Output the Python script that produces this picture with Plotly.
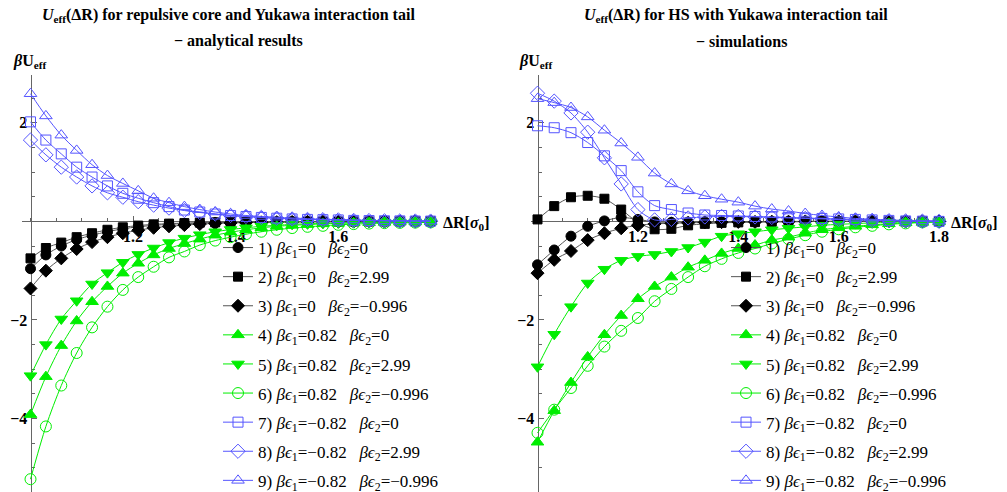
import plotly.graph_objects as go

W, H = 1007, 492

# ---------------- data ----------------
x_left = [round(1.0 + 0.03 * k, 2) for k in range(27)]
x_right = [round(1.0 + k / 30.0, 4) for k in range(25)]

eps1 = ["0", "0", "0", "0.82", "0.82", "0.82", "\u22120.82", "\u22120.82", "\u22120.82"]
eps2 = ["0", "2.99", "\u22120.996", "0", "2.99", "\u22120.996", "0", "2.99", "\u22120.996"]

# analytical results (left panel)
L1 = [-0.96, -0.68, -0.50, -0.37, -0.28, -0.21, -0.15, -0.11, -0.08, -0.06, -0.045, -0.035, -0.027,
      -0.02, -0.016, -0.012, -0.01, -0.008, -0.006, -0.005, -0.004, -0.003, -0.002, -0.002, -0.001, -0.001, 0.0]
L2 = [-0.75, -0.54, -0.43, -0.32, -0.24, -0.17, -0.12, -0.085, -0.06, -0.045, -0.035, -0.025, -0.02,
      -0.015, -0.012, -0.01, -0.008, -0.006, -0.005, -0.004, -0.003, -0.002, -0.002, -0.001, -0.001, 0.0, 0.0]
L3 = [-1.36, -1.00, -0.75, -0.56, -0.42, -0.32, -0.24, -0.18, -0.13, -0.10, -0.075, -0.055, -0.042,
      -0.032, -0.025, -0.019, -0.015, -0.011, -0.009, -0.007, -0.005, -0.004, -0.003, -0.002, -0.002, -0.001, -0.001]
L4 = [-3.92, -3.15, -2.52, -2.02, -1.63, -1.32, -1.05, -0.85, -0.68, -0.55, -0.45, -0.36, -0.28,
      -0.22, -0.17, -0.13, -0.10, -0.08, -0.065, -0.05, -0.04, -0.03, -0.025, -0.02, -0.015, -0.012, -0.01]
L5 = [-3.13, -2.50, -1.98, -1.61, -1.27, -1.04, -0.83, -0.67, -0.54, -0.43, -0.34, -0.27, -0.21,
      -0.165, -0.13, -0.10, -0.08, -0.06, -0.05, -0.04, -0.03, -0.025, -0.02, -0.015, -0.012, -0.01, -0.008]
L6 = [-5.23, -4.16, -3.33, -2.67, -2.15, -1.73, -1.39, -1.13, -0.92, -0.73, -0.61, -0.48, -0.39,
      -0.32, -0.26, -0.21, -0.17, -0.135, -0.11, -0.09, -0.07, -0.055, -0.045, -0.035, -0.03, -0.025, -0.02]
L7 = [2.02, 1.65, 1.37, 1.10, 0.90, 0.72, 0.57, 0.47, 0.38, 0.30, 0.23, 0.19, 0.15,
      0.12, 0.10, 0.08, 0.065, 0.05, 0.04, 0.035, 0.03, 0.02, 0.017, 0.013, 0.01, 0.008, 0.006]
L8 = [1.65, 1.35, 1.10, 0.90, 0.72, 0.58, 0.49, 0.40, 0.33, 0.27, 0.22, 0.18, 0.15,
      0.12, 0.10, 0.08, 0.065, 0.05, 0.04, 0.035, 0.03, 0.02, 0.017, 0.013, 0.01, 0.008, 0.006]
L9 = [2.59, 2.14, 1.75, 1.44, 1.15, 0.93, 0.77, 0.62, 0.47, 0.38, 0.30, 0.24, 0.19,
      0.15, 0.12, 0.10, 0.085, 0.07, 0.055, 0.045, 0.035, 0.03, 0.02, 0.015, 0.012, 0.01, 0.008]

# simulations (right panel)
R1 = [-0.88, -0.58, -0.30, -0.10, 0.01, 0.08, 0.04, -0.01, -0.02, -0.015, -0.01, -0.01, -0.005,
      -0.005, 0.0, 0.0, 0.0, 0.0, 0.0, 0.0, 0.0, 0.0, 0.0, 0.0, 0.0]
R2 = [0.04, 0.31, 0.49, 0.52, 0.46, 0.24, -0.02, -0.16, -0.15, -0.08, -0.05, -0.03, -0.02,
      -0.015, -0.01, -0.01, -0.005, 0.0, 0.0, 0.0, 0.0, 0.0, 0.0, 0.0, 0.0]
R3 = [-1.05, -0.78, -0.60, -0.38, -0.24, -0.14, -0.08, -0.05, -0.04, -0.03, -0.02, -0.015, -0.01,
      -0.01, -0.005, -0.005, 0.0, 0.0, 0.0, 0.0, 0.0, 0.0, 0.0, 0.0, 0.0]
R4 = [-4.48, -3.84, -3.27, -2.75, -2.30, -1.91, -1.57, -1.32, -1.13, -0.93, -0.79, -0.65, -0.55,
      -0.48, -0.38, -0.32, -0.24, -0.17, -0.13, -0.10, -0.07, -0.05, -0.03, -0.02, -0.01]
R5 = [-2.95, -2.29, -1.73, -1.25, -0.97, -0.79, -0.71, -0.67, -0.61, -0.53, -0.42, -0.30, -0.25,
      -0.21, -0.17, -0.14, -0.11, -0.08, -0.06, -0.045, -0.03, -0.02, -0.015, -0.01, -0.005]
R6 = [-4.29, -3.82, -3.38, -2.93, -2.54, -2.22, -1.96, -1.62, -1.37, -1.13, -0.91, -0.76, -0.64,
      -0.55, -0.45, -0.36, -0.28, -0.21, -0.16, -0.12, -0.09, -0.06, -0.04, -0.02, -0.01]
R7 = [1.94, 1.90, 1.80, 1.60, 1.33, 1.03, 0.60, 0.32, 0.24, 0.17, 0.13, 0.12, 0.11,
      0.10, 0.09, 0.08, 0.07, 0.06, 0.05, 0.04, 0.03, 0.02, 0.01, 0.005, 0.0]
R8 = [2.60, 2.44, 2.20, 1.81, 1.29, 0.76, 0.24, 0.03, 0.04, 0.07, 0.09, 0.10, 0.10,
      0.09, 0.08, 0.07, 0.06, 0.05, 0.04, 0.03, 0.02, 0.015, 0.01, 0.005, 0.0]
R9 = [2.49, 2.41, 2.31, 2.12, 1.85, 1.59, 1.30, 0.98, 0.76, 0.62, 0.52, 0.45, 0.39,
      0.31, 0.25, 0.21, 0.16, 0.12, 0.09, 0.06, 0.045, 0.03, 0.02, 0.01, 0.005]

left_series = [L1, L2, L3, L4, L5, L6, L7, L8, L9]
right_series = [R1, R2, R3, R4, R5, R6, R7, R8, R9]

x_ticks_left = [1.2, 1.4, 1.6]
x_ticks_right = [1.2, 1.4, 1.6, 1.8]
y_ticks = [-4, -2, 2]
y_ticktext = ["\u22124", "\u22122", "2"]

# ---------------- styles ----------------
BLACK, GREEN, BLUE = "#000000", "#00ee00", "#5555ff"
LINE_BLACK = "#555555"
styles = [
    dict(symbol="circle", size=10, color=BLACK, line=LINE_BLACK),
    dict(symbol="square", size=9, color=BLACK, line=LINE_BLACK),
    dict(symbol="diamond", size=10, color=BLACK, line=LINE_BLACK),
    dict(symbol="triangle-up", size=11, color=GREEN, line=GREEN),
    dict(symbol="triangle-down", size=11, color=GREEN, line=GREEN),
    dict(symbol="circle-open", size=11, color=GREEN, line=GREEN),
    dict(symbol="square-open", size=10, color=BLUE, line=BLUE),
    dict(symbol="diamond-open", size=11, color=BLUE, line=BLUE),
    dict(symbol="triangle-up-open", size=11, color=BLUE, line=BLUE),
]

SERIF = "Liberation Serif"
SP = "\u00a0\u00a0\u00a0"


def label(i):
    return (f"{i + 1}) <i>\u03b2\u03f5</i><sub>1</sub>={eps1[i]}{SP}"
            f"<i>\u03b2\u03f5</i><sub>2</sub>={eps2[i]}")


fig = go.Figure()

for panel, (xs, series, xa, ya, leg) in enumerate([
        (x_left, left_series, "x", "y", "legend"),
        (x_right, right_series, "x2", "y2", "legend2")]):
    for i, ys in enumerate(series):
        st = styles[i]
        fig.add_trace(go.Scatter(
            x=xs, y=ys, mode="lines+markers", name=label(i),
            xaxis=xa, yaxis=ya, legend=leg, legendgroup=f"{panel}-{i}",
            line=dict(color=st["line"], width=1, shape="spline", smoothing=0.8),
            marker=dict(symbol=st["symbol"], size=st["size"], color=st["color"],
                        line=dict(color=st["color"], width=1)),
            cliponaxis=False,
        ))

# ---------------- layout geometry (pixels -> paper) ----------------
def px(xp):
    return xp / W


def py(yp):
    return 1 - yp / H


Y_TOP, Y_BOT = 75, 492
Y_RANGE = [-5.49, 2.97]
y0_paper = py(Y_TOP + (Y_RANGE[1] - 0) / (Y_RANGE[1] - Y_RANGE[0]) * (Y_BOT - Y_TOP))

# left panel: x=1.0 at 30.5px, 513 px/unit
L_DOM = (22, 437)
L_RANGE = [1 - (30.5 - L_DOM[0]) / 513, 1 + (L_DOM[1] - 30.5) / 513]
# right panel: x=1.0 at 537.5px, 502 px/unit
R_DOM = (531, 946)
R_RANGE = [1 - (537.5 - R_DOM[0]) / 502, 1 + (R_DOM[1] - 537.5) / 502]

AX_COLOR = "#666666"
tickfont = dict(family=SERIF, size=16, color="black", weight="bold")


def xaxis(dom, rng, ticks, ypos):
    return dict(domain=[px(dom[0]), px(dom[1])], range=rng, anchor="free", position=ypos,
                showgrid=False, zeroline=False, showline=True, linecolor=AX_COLOR, linewidth=1,
                ticks="inside", ticklen=5, tickcolor=AX_COLOR, tickmode="array", tickvals=ticks,
                ticktext=[f"{t:.1f}" for t in ticks], tickfont=tickfont, layer="below traces",
                minor=dict(tick0=1.0, dtick=0.05, ticks="inside", ticklen=3, tickcolor=AX_COLOR,
                           showgrid=False),
                fixedrange=True)


def yaxis(xpos):
    return dict(domain=[py(Y_BOT), py(Y_TOP)], range=Y_RANGE, anchor="free", position=xpos,
                showgrid=False, zeroline=False, showline=True, linecolor=AX_COLOR, linewidth=1,
                ticks="inside", ticklen=5, tickcolor=AX_COLOR, tickmode="array", tickvals=y_ticks,
                ticktext=y_ticktext, tickfont=tickfont, layer="below traces",
                minor=dict(tick0=0, dtick=0.5, ticks="inside", ticklen=3, tickcolor=AX_COLOR,
                           showgrid=False),
                fixedrange=True)


legend_common = dict(bgcolor="rgba(0,0,0,0)", borderwidth=0, xanchor="left", yanchor="top",
                     tracegroupgap=4, font=dict(family=SERIF, size=17, color="black"),
                     itemclick=False, itemdoubleclick=False)

title_font = dict(family=SERIF, size=16, color="black")
lab_font = dict(family=SERIF, size=16, color="black")

annotations = [
    dict(text="<b><i>U</i><sub>eff</sub>(\u0394R) for repulsive core and Yukawa interaction tail</b>",
         x=px(228), y=py(16), xanchor="center", yanchor="middle"),
    dict(text="<b>\u2212 analytical results</b>",
         x=px(238), y=py(41), xanchor="center", yanchor="middle"),
    dict(text="<b><i>U</i><sub>eff</sub>(\u0394R) for HS with Yukawa interaction tail</b>",
         x=px(736), y=py(16), xanchor="center", yanchor="middle"),
    dict(text="<b>\u2212 simulations</b>",
         x=px(741), y=py(41), xanchor="center", yanchor="middle"),
    dict(text="<b><i>\u03b2</i>U<sub>eff</sub></b>", x=px(11), y=py(62), xanchor="left",
         yanchor="middle"),
    dict(text="<b><i>\u03b2</i>U<sub>eff</sub></b>", x=px(517), y=py(62), xanchor="left",
         yanchor="middle"),
    dict(text="<b>\u0394R[<i>\u03c3</i><sub>0</sub>]</b>", x=px(441), y=py(223), xanchor="left",
         yanchor="middle"),
    dict(text="<b>\u0394R[<i>\u03c3</i><sub>0</sub>]</b>", x=px(949), y=py(223), xanchor="left",
         yanchor="middle"),
]
for k, a in enumerate(annotations):
    a.update(xref="paper", yref="paper", showarrow=False, font=title_font if k < 4 else lab_font)

fig.update_layout(
    width=W, height=H, margin=dict(l=0, r=0, t=0, b=0, pad=0, autoexpand=False),
    paper_bgcolor="white", plot_bgcolor="rgba(0,0,0,0)",
    xaxis=xaxis(L_DOM, L_RANGE, x_ticks_left, y0_paper),
    yaxis=yaxis(px(30.5)),
    xaxis2=xaxis(R_DOM, R_RANGE, x_ticks_right, y0_paper),
    yaxis2=yaxis(px(537.5)),
    legend=dict(x=px(218), y=py(230), **legend_common),
    legend2=dict(x=px(726), y=py(230), **legend_common),
    annotations=annotations,
    showlegend=True,
)

fig.write_html("out.html", include_plotlyjs=True, config={"displayModeBar": False})
